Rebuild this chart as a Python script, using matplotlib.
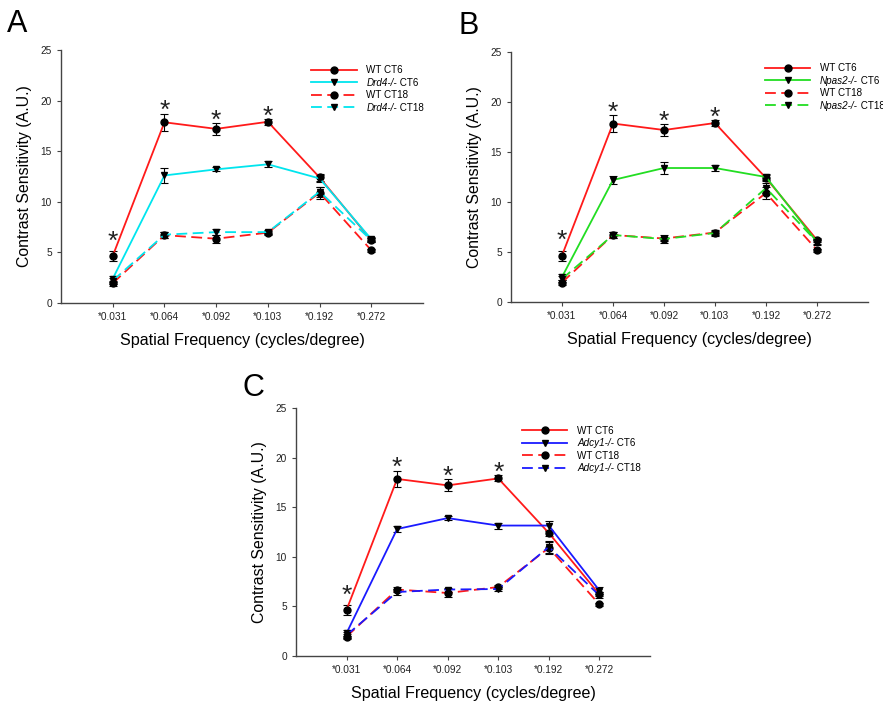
import matplotlib
matplotlib.use("Agg")
import matplotlib.pyplot as plt
from matplotlib.lines import Line2D

plt.rcParams['font.family'] = ['Liberation Sans', 'DejaVu Sans']

# ---- data ----
freq_labels = ["*0.031", "*0.064", "*0.092", "*0.103", "*0.192", "*0.272"]

wt_ct6 = [4.65, 17.85, 17.2, 17.9, 12.4, 6.2]
wt_ct6_err = [0.5, 0.85, 0.6, 0.3, 0.3, 0.2]
wt_ct18 = [1.95, 6.7, 6.35, 6.95, 10.9, 5.2]
wt_ct18_err = [0.25, 0.3, 0.4, 0.2, 0.6, 0.15]

drd4_ct6 = [2.4, 12.6, 13.2, 13.7, 12.3, 6.3]
drd4_ct6_err = [0.3, 0.7, 0.2, 0.3, 0.3, 0.2]
drd4_ct18 = [2.2, 6.75, 7.0, 7.0, 11.0, 6.2]
drd4_ct18_err = [0.3, 0.3, 0.3, 0.2, 0.5, 0.2]

npas2_ct6 = [2.5, 12.2, 13.4, 13.4, 12.5, 6.0]
npas2_ct6_err = [0.3, 0.4, 0.6, 0.3, 0.3, 0.3]
npas2_ct18 = [2.3, 6.7, 6.3, 6.9, 11.4, 6.0]
npas2_ct18_err = [0.3, 0.3, 0.2, 0.3, 0.5, 0.2]

adcy1_ct6 = [2.3, 12.8, 13.9, 13.15, 13.15, 6.6]
adcy1_ct6_err = [0.3, 0.3, 0.2, 0.3, 0.5, 0.4]
adcy1_ct18 = [2.1, 6.45, 6.7, 6.75, 11.0, 6.1]
adcy1_ct18_err = [0.3, 0.3, 0.2, 0.2, 0.6, 0.3]

sig_idx = [0, 1, 2, 3]

panels = [
    ("A", "Drd4-/-", "#00e5ee", drd4_ct6, drd4_ct6_err, drd4_ct18, drd4_ct18_err),
    ("B", "Npas2-/-", "#22dd22", npas2_ct6, npas2_ct6_err, npas2_ct18, npas2_ct18_err),
    ("C", "Adcy1-/-", "#1a1aff", adcy1_ct6, adcy1_ct6_err, adcy1_ct18, adcy1_ct18_err),
]

# axes rectangles in figure fraction (left, bottom, width, height)
rects = [
    (0.0691, 0.569, 0.410, 0.360),
    (0.5787, 0.5704, 0.4043, 0.3556),
    (0.3352, 0.0669, 0.4009, 0.3527),
]
letter_pos = [(0.008, 0.945), (0.519, 0.942), (0.275, 0.427)]
legend_anchor = [(0.68, 0.955), (0.70, 0.97), (0.627, 0.944)]

fig = plt.figure(figsize=(8.83, 7.03), dpi=100)
red = "#ff1a1a"
dash = (6, 3)
x = list(range(1, len(freq_labels) + 1))
LFS = 7.1

for (letter, ko, kcol, k6, k6e, k18, k18e), rect, lp, la in zip(panels, rects, letter_pos, legend_anchor):
    ax = fig.add_axes(rect)
    ekw = dict(ecolor='black', elinewidth=0.8, capsize=3, capthick=0.8)
    ax.errorbar(x, wt_ct6, yerr=wt_ct6_err, color=red, lw=1.3, marker='o', ms=5,
                mfc='black', mec='black', zorder=3, **ekw)
    ax.errorbar(x, k6, yerr=k6e, color=kcol, lw=1.3, marker='v', ms=5,
                mfc='black', mec='black', zorder=3, **ekw)
    l1 = ax.errorbar(x, wt_ct18, yerr=wt_ct18_err, color=red, lw=1.3, marker='o', ms=5,
                     mfc='black', mec='black', zorder=3, **ekw)
    l1.lines[0].set_dashes(dash)
    l2 = ax.errorbar(x, k18, yerr=k18e, color=kcol, lw=1.3, marker='v', ms=5,
                     mfc='black', mec='black', zorder=3, **ekw)
    l2.lines[0].set_dashes(dash)

    for i in sig_idx:
        ytop = wt_ct6[i] + wt_ct6_err[i]
        off = -0.25 if i == 0 else -0.95
        ax.text(x[i], ytop + off, "*", ha='center', va='bottom', fontsize=19,
                color='#222222')

    ax.set_xlim(0, 7)
    ax.set_ylim(0, 25)
    ax.set_xticks(x)
    ax.set_xticklabels(freq_labels, fontsize=7.3)
    ax.set_yticks([0, 5, 10, 15, 20, 25])
    ax.tick_params(axis='both', labelsize=7.3, length=3, width=0.8, color='#444444',
                   labelcolor='#222222')
    for s in ['top', 'right']:
        ax.spines[s].set_visible(False)
    for s in ['left', 'bottom']:
        ax.spines[s].set_color('#444444')
        ax.spines[s].set_linewidth(1.0)
    ax.set_xlabel("Spatial Frequency (cycles/degree)", fontsize=11.6, labelpad=8)
    ax.set_ylabel("Contrast Sensitivity (A.U.)", fontsize=11.4, labelpad=6)

    handles = [
        Line2D([], [], color=red, lw=1.3, marker='o', ms=5, mfc='black', mec='black'),
        Line2D([], [], color=kcol, lw=1.3, marker='v', ms=5, mfc='black', mec='black'),
        Line2D([], [], color=red, lw=1.3, marker='o', ms=5, mfc='black', mec='black', dashes=dash),
        Line2D([], [], color=kcol, lw=1.3, marker='v', ms=5, mfc='black', mec='black', dashes=dash),
    ]
    labels = ["WT CT6", ko + " CT6", "WT CT18", ko + " CT18"]
    leg = ax.legend(handles, labels, loc='upper left', bbox_to_anchor=la,
                    frameon=False, fontsize=LFS, handlelength=4.6, handletextpad=1.0,
                    labelspacing=0.25, borderaxespad=0)
    fig.canvas.draw()
    inv = ax.transAxes.inverted()
    for j in (1, 3):
        t = leg.get_texts()[j]
        bb = t.get_window_extent()
        t.set_alpha(0)
        x0, y0 = inv.transform((bb.x0, bb.y0))
        suffix = " CT6" if j == 1 else " CT18"
        ti = ax.text(x0, y0, ko, transform=ax.transAxes, fontsize=LFS, style='italic',
                     va='bottom', ha='left')
        fig.canvas.draw()
        bbi = ti.get_window_extent()
        x1 = inv.transform((bbi.x1, 0))[0]
        ax.text(x1, y0, suffix, transform=ax.transAxes, fontsize=LFS, va='bottom', ha='left')

    fig.text(lp[0], lp[1], letter, fontsize=22, ha='left', va='bottom')

fig.savefig("out.png", dpi=100)
